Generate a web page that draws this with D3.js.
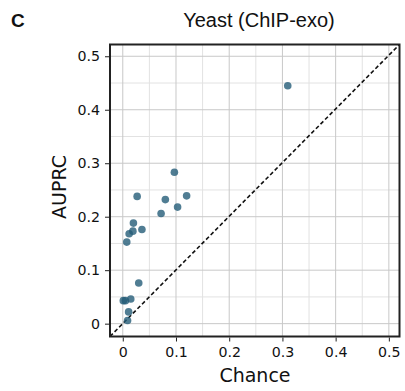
<!DOCTYPE html>
<html><head><meta charset="utf-8">
<script src="https://cdn.jsdelivr.net/npm/d3@7"></script>
<style>body{margin:0;background:#fff}svg{display:block;font-family:"DejaVu Sans",sans-serif}</style>
</head><body><svg width="405" height="391"></svg>
<script>
const chance = [0.310,0.097,0.027,0.080,0.120,0.103,0.072,0.020,0.019,0.012,0.036,0.0075,0.030,0.001,0.005,0.015,0.011,0.009];
const auprc  = [0.445,0.283,0.238,0.232,0.239,0.218,0.206,0.188,0.173,0.168,0.176,0.1525,0.076,0.043,0.043,0.046,0.022,0.006];
const tickVals = [0,0.1,0.2,0.3,0.4,0.5];
const tickLabels = ["0","0.1","0.2","0.3","0.4","0.5"];
const minorVals = [0.05,0.15,0.25,0.35,0.45];
const title = "Yeast (ChIP-exo)", panel = "C", xTitle = "Chance", yTitle = "AUPRC";

const svg = d3.select("svg");
const L=110, R=399.5, T=44.5, B=336.5;
const x = d3.scaleLinear().domain([-0.024,0.52]).range([L,R]);
const y = d3.scaleLinear().domain([-0.024,0.522]).range([B,T]);

const g = svg.append("g");
g.selectAll(".gmx").data(minorVals).join("line")
  .attr("x1",d=>x(d)).attr("x2",d=>x(d)).attr("y1",T).attr("y2",B)
  .attr("stroke","#e2e2e2").attr("stroke-width",1);
g.selectAll(".gmy").data(minorVals).join("line")
  .attr("y1",d=>y(d)).attr("y2",d=>y(d)).attr("x1",L).attr("x2",R)
  .attr("stroke","#e2e2e2").attr("stroke-width",1);
g.selectAll(".gx").data(tickVals).join("line")
  .attr("x1",d=>x(d)).attr("x2",d=>x(d)).attr("y1",T).attr("y2",B)
  .attr("stroke","#c8c8c8").attr("stroke-width",1);
g.selectAll(".gy").data(tickVals).join("line")
  .attr("y1",d=>y(d)).attr("y2",d=>y(d)).attr("x1",L).attr("x2",R)
  .attr("stroke","#c8c8c8").attr("stroke-width",1);

// diagonal
svg.append("line").attr("x1",x(-0.024)).attr("y1",y(-0.024)).attr("x2",x(0.52)).attr("y2",y(0.522))
  .attr("stroke","#111").attr("stroke-width",1.6).attr("stroke-dasharray","4,2.5");

// points
svg.append("g").selectAll("circle").data(chance.map((c,i)=>[c,auprc[i]])).join("circle")
  .attr("cx",d=>x(d[0])).attr("cy",d=>y(d[1])).attr("r",3.8)
  .attr("fill","#245d78").attr("fill-opacity",0.8);

// frame
svg.append("rect").attr("x",L).attr("y",T).attr("width",R-L).attr("height",B-T)
  .attr("fill","none").attr("stroke","#222").attr("stroke-width",2);

// axes
const xa = svg.append("g").attr("transform",`translate(0,${B+1})`)
  .call(d3.axisBottom(x).tickValues(tickVals).tickFormat((d,i)=>tickLabels[i]).tickSize(4).tickPadding(5));
const ya = svg.append("g").attr("transform",`translate(${L-1},0)`)
  .call(d3.axisLeft(y).tickValues(tickVals).tickFormat((d,i)=>tickLabels[i]).tickSize(4).tickPadding(5));
[xa,ya].forEach(a=>{a.select(".domain").remove();
  a.selectAll("text").attr("font-family","DejaVu Sans").attr("font-size",14.2).attr("fill","#111");
  a.selectAll("line").attr("stroke","#222");});

svg.append("text").attr("x",255).attr("y",382).attr("text-anchor","middle")
  .attr("font-size",19).attr("fill","#111").text(xTitle);
svg.append("text").attr("transform","translate(66,187) rotate(-90)").attr("text-anchor","middle")
  .attr("font-size",19).attr("fill","#111").text(yTitle);
svg.append("text").attr("x",259).attr("y",27).attr("text-anchor","middle")
  .attr("font-family","Liberation Sans").attr("font-size",20).attr("fill","#111").text(title);
svg.append("text").attr("x",11).attr("y",27).attr("font-weight","bold")
  .attr("font-family","Liberation Sans").attr("font-size",19).attr("fill","#111").text(panel);
</script></body></html>
